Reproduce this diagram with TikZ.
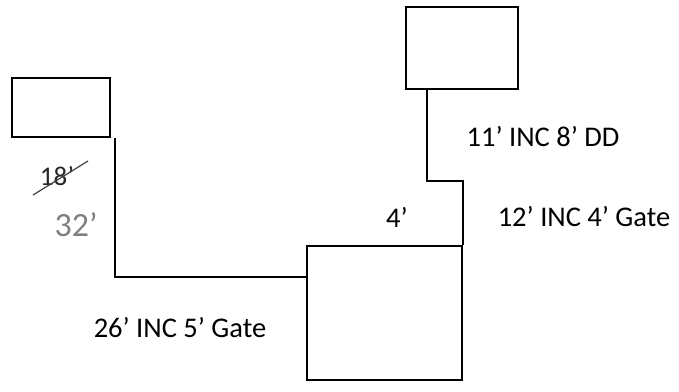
\documentclass[tikz,border=0pt]{standalone}
\usepackage{fontspec}
\setmainfont{Carlito}
\usepackage{tikz}
\usepackage{xcolor}

\begin{document}
\begin{tikzpicture}[x=1pt,y=-1pt,every node/.style={font=\fontsize{28.5}{30}\selectfont},
  room/.style={draw,line width=2.2pt,inner sep=0pt},
  run/.style={line width=1.3pt}]
\useasboundingbox (0,0) rectangle (679,391);
\node[room,minimum width=98pt,minimum height=59pt] (leftbox) at (61,107.5) {};
\node[room,minimum width=112pt,minimum height=82pt] (topbox) at (462,48) {};
\node[room,minimum width=155pt,minimum height=134pt] (bigbox) at (384.5,313) {};
\coordinate (lend) at (307,277);
\draw[run] ([xshift=4pt]leftbox.south east) |- (lend);
\draw[run] ([xshift=-35pt]topbox.south) -- ++(0,91) -| (bigbox.north east);
\node (ddlabel) at (543,137) {11’ INC 8’ DD};
\node (gatelabel) at (584,217) {12’ INC 4’ Gate};
\node (fourlabel) at (397,217) {4’};
\node (sidelabel) at (180,328) {26’ INC 5’ Gate};
\node[text=black!85,font=\fontsize{27}{28}\selectfont] (oldlen) at (57,176) {18’};
\draw[black!75,line width=1.2pt] (33,195) -- (88,161);
\node[text=black!50,font=\fontsize{34}{36}\selectfont] (newlen) at (76,225) {32’};
\end{tikzpicture}
\end{document}
